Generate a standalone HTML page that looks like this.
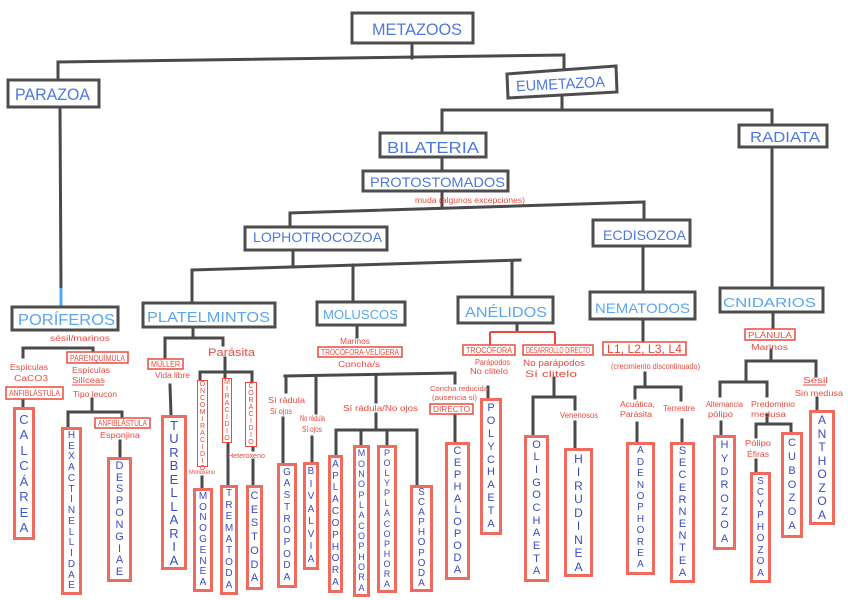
<!DOCTYPE html>
<html><head><meta charset="utf-8">
<style>
html,body{margin:0;padding:0;background:#fff;}
#wrap{position:relative;width:848px;height:600px;overflow:hidden;background:#fff;font-family:"Liberation Sans",sans-serif;}
svg{position:absolute;left:0;top:0;}
.v{position:absolute;box-sizing:border-box;border:3px solid #f06a5e;background:#fff;display:flex;flex-direction:column;justify-content:space-evenly;align-items:center;color:#3a4cc0;line-height:1;font-family:"Liberation Sans",sans-serif;}
.r{position:absolute;box-sizing:border-box;border:1.5px solid #e84a3e;background:#fff;display:flex;flex-direction:column;justify-content:space-evenly;align-items:center;color:#e84a3e;line-height:1;font-size:7px;font-family:"Liberation Sans",sans-serif;}
</style></head><body>
<div id="wrap">
<svg width="848" height="600" viewBox="0 0 848 600">
<g stroke="#4a4a4a" stroke-width="3" fill="none" stroke-linecap="square">
<!-- top -->
<path d="M412 43V58"/>
<path d="M58 62L564 55"/>
<path d="M58 62V80"/>
<path d="M564 55V72"/>
<path d="M60 107L61 290"/>
<path d="M562 96V110"/>
<path d="M442 110H772"/>
<path d="M442 110V133"/>
<path d="M772 110V125"/>
<path d="M772 147V288"/>
<path d="M442 157V171"/>
<path d="M442 191V208"/>
<path d="M290 213L644 202"/>
<path d="M290 213V227"/>
<path d="M644 202V220"/>
<path d="M293 250V267"/>
<path d="M192 270L520 260"/>
<path d="M192 270V303"/>
<path d="M353 265V302"/>
<path d="M512 261V297"/>
<path d="M643 246V292"/>
<!-- poriferos -->
<path d="M23 348H93"/>
<path d="M23 348V357"/>
<path d="M93 348V354"/>
<path d="M23 400V407"/>
<path d="M92 399V412"/>
<path d="M68 412H122"/>
<path d="M68 412V427"/>
<path d="M122 412V418"/>
<path d="M120 441V457"/>
<!-- platelmintos -->
<path d="M193 327V338"/>
<path d="M165 338H223"/>
<path d="M165 338V359"/>
<path d="M223 338V345"/>
<path d="M170 385L171 415"/>
<path d="M225 358V372"/>
<path d="M200 372H252"/>
<path d="M200 372V380"/>
<path d="M225 372V378"/>
<path d="M252 372V382"/>
<path d="M202 477V488"/>
<path d="M228 443V485"/>
<path d="M253 447V450"/>
<path d="M253 460V485"/>
<!-- moluscos -->
<path d="M357 325V337"/>
<path d="M285 376L455 373"/>
<path d="M286 376V392"/>
<path d="M283 418V463"/>
<path d="M316 376V413"/>
<path d="M312 437V462"/>
<path d="M376 375V402"/>
<path d="M376 414V430"/>
<path d="M336 430H417"/>
<path d="M336 430V455"/>
<path d="M361 430V445"/>
<path d="M387 430V447"/>
<path d="M417 430V487"/>
<path d="M455 373V383"/>
<path d="M455 414V442"/>
<!-- anelidos -->
<path d="M517 323V331"/>
<path d="M488 387V398"/>
<path d="M554 378V397"/>
<path d="M533 397H575"/>
<path d="M533 397V435"/>
<path d="M575 397V409"/>
<path d="M575 422V448"/>
<!-- nematodos -->
<path d="M643 319V342"/>
<path d="M645 373V387"/>
<path d="M635 387H681"/>
<path d="M635 387V398"/>
<path d="M681 387V400"/>
<path d="M637 423V442"/>
<path d="M682 420V442"/>
<!-- cnidarios -->
<path d="M773 312V329"/>
<path d="M771 350V361"/>
<path d="M746 361H816"/>
<path d="M746 361V382"/>
<path d="M816 361V376"/>
<path d="M720 382H767"/>
<path d="M720 382V396"/>
<path d="M767 382V396"/>
<path d="M721 422V435"/>
<path d="M767 415V424"/>
<path d="M756 424H791"/>
<path d="M756 424V437"/>
<path d="M791 424V432"/>
<path d="M756 460V472"/>
<path d="M817 398V410"/>
</g>
<!-- light blue segment above poriferos -->
<path d="M61 288V307" stroke="#5aa6ef" stroke-width="3"/>
<!-- red connectors anelidos -->
<g stroke="#e84a3e" stroke-width="2" fill="none">
<path d="M490 332H555"/>
<path d="M490 332V345"/>
<path d="M555 332V344"/>
</g>

<!-- heading boxes -->
<g stroke="#4d4d4d" stroke-width="3" fill="#fff">
<rect x="352" y="13" width="121" height="30"/>
<rect x="8" y="80" width="91" height="27"/>
<path d="M507 74L616 66L617 92L508 98Z"/>
<rect x="739" y="125" width="88" height="22"/>
<rect x="380" y="133" width="106" height="24"/>
<rect x="363" y="171" width="145" height="20"/>
<rect x="245" y="227" width="142" height="23"/>
<rect x="593" y="220" width="97" height="26"/>
<rect x="12" y="307" width="106" height="23"/>
<rect x="143" y="303" width="132" height="24"/>
<rect x="317" y="302" width="88" height="23"/>
<rect x="458" y="297" width="95" height="26"/>
<rect x="590" y="292" width="105" height="27"/>
<rect x="720" y="288" width="103" height="24"/>
</g>

<g font-family="Liberation Sans, sans-serif" fill="#4c78df" lengthAdjust="spacingAndGlyphs">
<text x="372" y="35" font-size="17" textLength="90" lengthAdjust="spacingAndGlyphs">METAZOOS</text>
<text x="15" y="100" font-size="17" textLength="75" lengthAdjust="spacingAndGlyphs">PARAZOA</text>
<text x="516" y="89" font-size="15" textLength="89" lengthAdjust="spacingAndGlyphs" transform="rotate(-3 560 84)">EUMETAZOA</text>
<text x="750" y="142" font-size="15" textLength="70" lengthAdjust="spacingAndGlyphs">RADIATA</text>
<text x="387" y="153" font-size="16" textLength="92" lengthAdjust="spacingAndGlyphs">BILATERIA</text>
<text x="370" y="187" font-size="14" textLength="135" lengthAdjust="spacingAndGlyphs">PROTOSTOMADOS</text>
<text x="253" y="242" font-size="14" textLength="129" lengthAdjust="spacingAndGlyphs">LOPHOTROCOZOA</text>
<text x="603" y="240" font-size="14" textLength="83" lengthAdjust="spacingAndGlyphs">ECDISOZOA</text>
</g>
<g font-family="Liberation Sans, sans-serif" fill="#5aa6ef">
<text x="18" y="325" font-size="16" textLength="97" lengthAdjust="spacingAndGlyphs">PORÍFEROS</text>
<text x="147" y="322" font-size="15" textLength="123" lengthAdjust="spacingAndGlyphs">PLATELMINTOS</text>
<text x="323" y="319" font-size="13" textLength="75" lengthAdjust="spacingAndGlyphs">MOLUSCOS</text>
<text x="465" y="317" font-size="15" textLength="82" lengthAdjust="spacingAndGlyphs">ANÉLIDOS</text>
<text x="595" y="313" font-size="14" textLength="95" lengthAdjust="spacingAndGlyphs">NEMATODOS</text>
<text x="723" y="307" font-size="13" textLength="93" lengthAdjust="spacingAndGlyphs">CNIDARIOS</text>
</g>

<!-- red label boxes -->
<g stroke="#e84a3e" stroke-width="1.5" fill="#fff">
<rect x="6" y="387" width="57" height="12"/>
<rect x="67" y="352" width="61" height="11"/>
<rect x="95" y="418" width="55" height="10"/>
<rect x="148" y="359" width="35" height="10"/>
<rect x="318" y="347" width="84" height="10"/>
<rect x="430" y="404" width="43" height="10"/>
<rect x="463" y="345" width="52" height="10"/>
<rect x="523" y="345" width="70" height="10"/>
<rect x="603" y="342" width="83" height="13"/>
<rect x="745" y="329" width="50" height="11"/>
</g>
<g font-family="Liberation Sans, sans-serif" fill="#e84a3e" font-size="8">
<text x="9" y="396" textLength="51" lengthAdjust="spacingAndGlyphs">ANFIBLÁSTULA</text>
<text x="70" y="361" textLength="55" lengthAdjust="spacingAndGlyphs">PARENQUÍMULA</text>
<text x="98" y="426" textLength="49" lengthAdjust="spacingAndGlyphs">ANFIBLÁSTULA</text>
<text x="151" y="367" textLength="29" lengthAdjust="spacingAndGlyphs">MÜLLER</text>
<text x="321" y="355" textLength="78" lengthAdjust="spacingAndGlyphs">TROCÓFORA-VELÍGERA</text>
<text x="433" y="412" textLength="37" lengthAdjust="spacingAndGlyphs">DIRECTO</text>
<text x="466" y="353" textLength="46" lengthAdjust="spacingAndGlyphs">TROCÓFORA</text>
<text x="526" y="353" textLength="64" lengthAdjust="spacingAndGlyphs">DESARROLLO DIRECTO</text>
<text x="607" y="353" font-size="12" textLength="75" lengthAdjust="spacingAndGlyphs">L1, L2, L3, L4</text>
<text x="748" y="338" textLength="44" lengthAdjust="spacingAndGlyphs">PLÁNULA</text>

<text x="415" y="203" textLength="110" lengthAdjust="spacingAndGlyphs">muda (algunos excepciones)</text>
<text x="50" y="341" textLength="60" lengthAdjust="spacingAndGlyphs">sésil/marinos</text>
<text x="10" y="370" textLength="38" lengthAdjust="spacingAndGlyphs">Espículas</text>
<text x="14" y="381" textLength="34" lengthAdjust="spacingAndGlyphs">CaCO3</text>
<text x="72" y="373" textLength="38" lengthAdjust="spacingAndGlyphs">Espículas</text>
<text x="72" y="383" textLength="33" lengthAdjust="spacingAndGlyphs">Silíceas</text>
<text x="73" y="397" textLength="44" lengthAdjust="spacingAndGlyphs">Tipo leucon</text>
<text x="100" y="438" textLength="40" lengthAdjust="spacingAndGlyphs">Esponjina</text>
<text x="155" y="378" textLength="35" lengthAdjust="spacingAndGlyphs">Vida libre</text>
<text x="208" y="356" font-size="11" textLength="47" lengthAdjust="spacingAndGlyphs">Parásita</text>
<text x="228" y="458" font-size="7" textLength="37" lengthAdjust="spacingAndGlyphs">Heteroxeno</text>
<text x="189" y="474" font-size="6" textLength="26" lengthAdjust="spacingAndGlyphs">Monoxeno</text>
<text x="268" y="403" textLength="37" lengthAdjust="spacingAndGlyphs">Sí rádula</text>
<text x="270" y="414" textLength="22" lengthAdjust="spacingAndGlyphs">Sí ojos</text>
<text x="300" y="421" textLength="25" lengthAdjust="spacingAndGlyphs">No rádula</text>
<text x="302" y="432" textLength="20" lengthAdjust="spacingAndGlyphs">Sí ojos</text>
<text x="343" y="411" textLength="75" lengthAdjust="spacingAndGlyphs">Sí rádula/No ojos</text>
<text x="340" y="344" textLength="30" lengthAdjust="spacingAndGlyphs">Marinos</text>
<text x="338" y="367" textLength="42" lengthAdjust="spacingAndGlyphs">Concha/s</text>
<text x="430" y="391" font-size="7" textLength="58" lengthAdjust="spacingAndGlyphs">Concha reducida</text>
<text x="432" y="400" font-size="7" textLength="45" lengthAdjust="spacingAndGlyphs">(ausencia si)</text>
<text x="475" y="365" textLength="35" lengthAdjust="spacingAndGlyphs">Parápodos</text>
<text x="470" y="374" textLength="38" lengthAdjust="spacingAndGlyphs">No clitelo</text>
<text x="523" y="366" font-size="9" textLength="62" lengthAdjust="spacingAndGlyphs">No parápodos</text>
<text x="525" y="377" font-size="9" textLength="52" lengthAdjust="spacingAndGlyphs">Sí clitelo</text>
<text x="560" y="418" textLength="38" lengthAdjust="spacingAndGlyphs">Venenosos</text>
<text x="611" y="369" textLength="89" lengthAdjust="spacingAndGlyphs">(crecimiento discontinuado)</text>
<text x="620" y="407" textLength="35" lengthAdjust="spacingAndGlyphs">Acuática,</text>
<text x="620" y="417" textLength="32" lengthAdjust="spacingAndGlyphs">Parásita</text>
<text x="663" y="411" textLength="32" lengthAdjust="spacingAndGlyphs">Terrestre</text>
<text x="751" y="350" textLength="37" lengthAdjust="spacingAndGlyphs">Marinos</text>
<text x="706" y="407" textLength="37" lengthAdjust="spacingAndGlyphs">Alternancia</text>
<text x="708" y="417" textLength="25" lengthAdjust="spacingAndGlyphs">pólipo</text>
<text x="751" y="407" textLength="44" lengthAdjust="spacingAndGlyphs">Predominio</text>
<text x="751" y="417" textLength="35" lengthAdjust="spacingAndGlyphs">medusa</text>
<text x="745" y="446" textLength="26" lengthAdjust="spacingAndGlyphs">Pólipo</text>
<text x="747" y="457" textLength="22" lengthAdjust="spacingAndGlyphs">Éfiras</text>
<text x="803" y="383" textLength="25" lengthAdjust="spacingAndGlyphs">Sésil</text>
<text x="795" y="396" textLength="48" lengthAdjust="spacingAndGlyphs">Sin medusa</text>
</g>
<g stroke="#e84a3e" stroke-width="1">
<path d="M803 385H826"/>
<path d="M72 385H104"/>
</g>
</svg>

<!-- red thin vertical boxes -->
<div class="r" style="left:197px;top:380px;width:11px;height:87px;"><span>O</span><span>N</span><span>C</span><span>O</span><span>M</span><span>I</span><span>R</span><span>A</span><span>C</span><span>I</span><span>D</span><span>I</span><span>O</span></div>
<div class="r" style="left:222px;top:378px;width:10px;height:65px;"><span>M</span><span>I</span><span>R</span><span>A</span><span>C</span><span>I</span><span>D</span><span>I</span><span>O</span></div>
<div class="r" style="left:245px;top:382px;width:12px;height:65px;"><span>C</span><span>O</span><span>R</span><span>A</span><span>C</span><span>I</span><span>D</span><span>I</span><span>O</span></div>

<!-- vertical taxon boxes -->
<div class="v" style="left:13px;top:407px;width:22px;height:133px;font-size:13px;color:#3a58d0;"><span>C</span><span>A</span><span>L</span><span>C</span><span>Á</span><span>R</span><span>E</span><span>A</span></div>
<div class="v" style="left:61px;top:427px;width:21px;height:168px;font-size:10px;"><span>H</span><span>E</span><span>X</span><span>A</span><span>C</span><span>T</span><span>I</span><span>N</span><span>E</span><span>L</span><span>L</span><span>I</span><span>D</span><span>A</span><span>E</span></div>
<div class="v" style="left:107px;top:457px;width:25px;height:125px;font-size:11px;"><span>D</span><span>E</span><span>S</span><span>P</span><span>O</span><span>N</span><span>G</span><span>I</span><span>A</span><span>E</span></div>
<div class="v" style="left:161px;top:415px;width:26px;height:155px;font-size:13px;"><span>T</span><span>U</span><span>R</span><span>B</span><span>E</span><span>L</span><span>L</span><span>A</span><span>R</span><span>I</span><span>A</span></div>
<div class="v" style="left:193px;top:488px;width:20px;height:104px;font-size:10px;"><span>M</span><span>O</span><span>N</span><span>O</span><span>G</span><span>E</span><span>N</span><span>E</span><span>A</span></div>
<div class="v" style="left:220px;top:485px;width:18px;height:110px;font-size:10px;"><span>T</span><span>R</span><span>E</span><span>M</span><span>A</span><span>T</span><span>O</span><span>D</span><span>A</span></div>
<div class="v" style="left:246px;top:485px;width:17px;height:105px;font-size:11px;"><span>C</span><span>E</span><span>S</span><span>T</span><span>O</span><span>D</span><span>A</span></div>
<div class="v" style="left:277px;top:463px;width:20px;height:125px;font-size:10px;"><span>G</span><span>A</span><span>S</span><span>T</span><span>R</span><span>O</span><span>P</span><span>O</span><span>D</span><span>A</span></div>
<div class="v" style="left:303px;top:462px;width:16px;height:108px;font-size:10px;"><span>B</span><span>I</span><span>V</span><span>A</span><span>L</span><span>V</span><span>I</span><span>A</span></div>
<div class="v" style="left:328px;top:455px;width:15px;height:138px;font-size:10px;"><span>A</span><span>P</span><span>L</span><span>A</span><span>C</span><span>O</span><span>P</span><span>H</span><span>O</span><span>R</span><span>A</span></div>
<div class="v" style="left:353px;top:445px;width:17px;height:152px;font-size:9px;"><span>M</span><span>O</span><span>N</span><span>O</span><span>P</span><span>L</span><span>A</span><span>C</span><span>O</span><span>P</span><span>H</span><span>O</span><span>R</span><span>A</span></div>
<div class="v" style="left:377px;top:445px;width:20px;height:148px;font-size:9px;"><span>P</span><span>O</span><span>L</span><span>Y</span><span>P</span><span>L</span><span>A</span><span>C</span><span>O</span><span>P</span><span>H</span><span>O</span><span>R</span><span>A</span></div>
<div class="v" style="left:410px;top:485px;width:23px;height:107px;font-size:10px;"><span>S</span><span>C</span><span>A</span><span>P</span><span>H</span><span>O</span><span>P</span><span>O</span><span>D</span><span>A</span></div>
<div class="v" style="left:445px;top:442px;width:25px;height:138px;font-size:11px;"><span>C</span><span>E</span><span>P</span><span>H</span><span>A</span><span>L</span><span>O</span><span>P</span><span>O</span><span>D</span><span>A</span></div>
<div class="v" style="left:480px;top:398px;width:22px;height:137px;font-size:11px;"><span>P</span><span>O</span><span>L</span><span>Y</span><span>C</span><span>H</span><span>A</span><span>E</span><span>T</span><span>A</span></div>
<div class="v" style="left:524px;top:435px;width:25px;height:147px;font-size:11px;"><span>O</span><span>L</span><span>I</span><span>G</span><span>O</span><span>C</span><span>H</span><span>A</span><span>E</span><span>T</span><span>A</span></div>
<div class="v" style="left:564px;top:448px;width:29px;height:129px;font-size:12px;"><span>H</span><span>I</span><span>R</span><span>U</span><span>D</span><span>I</span><span>N</span><span>E</span><span>A</span></div>
<div class="v" style="left:626px;top:442px;width:29px;height:133px;font-size:10px;"><span>A</span><span>D</span><span>E</span><span>N</span><span>O</span><span>P</span><span>H</span><span>O</span><span>R</span><span>E</span><span>A</span></div>
<div class="v" style="left:670px;top:442px;width:25px;height:141px;font-size:11px;"><span>S</span><span>E</span><span>C</span><span>E</span><span>R</span><span>N</span><span>E</span><span>N</span><span>T</span><span>E</span><span>A</span></div>
<div class="v" style="left:713px;top:435px;width:23px;height:115px;font-size:11px;"><span>H</span><span>Y</span><span>D</span><span>R</span><span>O</span><span>Z</span><span>O</span><span>A</span></div>
<div class="v" style="left:750px;top:472px;width:21px;height:111px;font-size:10px;"><span>S</span><span>C</span><span>Y</span><span>P</span><span>H</span><span>O</span><span>Z</span><span>O</span><span>A</span></div>
<div class="v" style="left:781px;top:432px;width:22px;height:106px;font-size:11px;"><span>C</span><span>U</span><span>B</span><span>O</span><span>Z</span><span>O</span><span>A</span></div>
<div class="v" style="left:809px;top:410px;width:26px;height:115px;font-size:12px;"><span>A</span><span>N</span><span>T</span><span>H</span><span>O</span><span>Z</span><span>O</span><span>A</span></div>
</div>
</body></html>
